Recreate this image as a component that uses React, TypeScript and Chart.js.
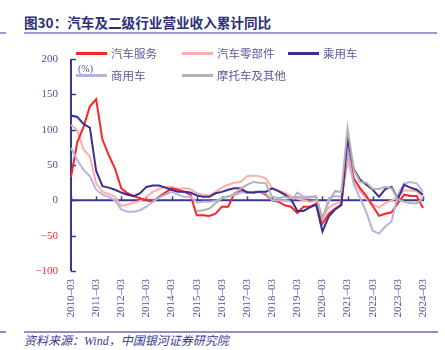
import React, { useEffect, useRef } from "react";
import { Chart, registerables } from "chart.js";

Chart.register(...registerables);

const categories = [
  "2010-03", "2010-06", "2010-09", "2010-12",
  "2011-03", "2011-06", "2011-09", "2011-12",
  "2012-03", "2012-06", "2012-09", "2012-12",
  "2013-03", "2013-06", "2013-09", "2013-12",
  "2014-03", "2014-06", "2014-09", "2014-12",
  "2015-03", "2015-06", "2015-09", "2015-12",
  "2016-03", "2016-06", "2016-09", "2016-12",
  "2017-03", "2017-06", "2017-09", "2017-12",
  "2018-03", "2018-06", "2018-09", "2018-12",
  "2019-03", "2019-06", "2019-09", "2019-12",
  "2020-03", "2020-06", "2020-09", "2020-12",
  "2021-03", "2021-06", "2021-09", "2021-12",
  "2022-03", "2022-06", "2022-09", "2022-12",
  "2023-03", "2023-06", "2023-09", "2023-12",
  "2024-03",
];

const autoService = [
  33, 82, 104, 133, 143, 86, 64, 45, 17, 10, 6, 3, 0, -2, 5, 11, 17, 15, 12, 8,
  -21, -21, -22, -19, -9, -9, 10, 13, 12, 11, 12, 8, 0, -2, -7, -9, -18, -9, -9, -5,
  -33, -19, -12, -6, 73, 31, 17, 6, -8, -22, -19, -17, -4, 8, 6, 6, -11,
];

const autoParts = [
  107, 99, 72, 62, 24, 12, 9, 5, -8, -6, -3, -1, 5, 12, 16, 19, 19, 16, 17, 16,
  10, 8, 7, 12, 18, 22, 25, 26, 34, 35, 34, 31, 17, 14, 11, 6, 2, 0, -2, -1,
  -25, -10, -5, -1, 55, 27, 13, 2, -6, -10, -4, 0, 4, 14, 14, 13, 4,
];

const passengerCar = [
  120, 118, 108, 103, 42, 20, 18, 15, 11, 8, 6, 10, 19, 21, 21, 18, 15, 12, 12, 11,
  7, 5, 5, 10, 12, 15, 17, 17, 11, 11, 12, 12, 17, 13, 8, 2, -15, -15, -10, -6,
  -44, -23, -13, -7, 88, 44, 29, 22, 15, 5, 16, 19, 2, 22, 18, 15, 8,
];

const commercialVehicle = [
  74, 57, 43, 34, 15, 8, 5, 0, -13, -16, -16, -14, -9, -2, 4, 8, 12, 8, 5, 5,
  -3, -2, -2, -1, 3, 6, 7, 11, 11, 12, 12, 10, 0, 0, 0, -2, 11, 5, 5, 6,
  -27, 3, 6, 5, 70, 22, 3, -17, -43, -47, -37, -30, 8, 24, 26, 24, 12,
];

const motorcycleOther = [
  null, null, null, null, null, null, null, null, null, null,
  null, null, null, null, null, null, null, null, null, null,
  -15, -14, -12, -4, 3, 5, 9, 17, 22, 26, 25, 24, 5, 3, 5, 3, 5, 3, 4, 5,
  -25, -2, 13, 12, 102, 43, 26, 25, 16, 16, 19, 17, 1, -2, -4, -4, 3,
];

const seriesNames = ["汽车服务", "汽车零部件", "乘用车", "商用车", "摩托车及其他"];
const seriesColors = ["#ff2424", "#ffadad", "#3a2f8e", "#b4b4e0", "#b2b2b2"];
const seriesData = [autoService, autoParts, passengerCar, commercialVehicle, motorcycleOther];
const seriesOrder = [4, 5, 2, 3, 1];

const yTicks = [-100, -50, 0, 50, 100, 150, 200];

const NAVY = "#3b3590";
const TICK_BLUE = "#4f4f9f";
const TICK_RED = "#ff2a2a";

const axisPlugin = {
  id: "customAxes",
  beforeDatasetsDraw(chart: any) {
    const { ctx, chartArea, scales } = chart;
    const x = scales.x;
    const y = scales.y;
    const y0 = y.getPixelForValue(0);
    ctx.save();
    ctx.strokeStyle = NAVY;
    ctx.lineWidth = 2;
    ctx.beginPath();
    ctx.moveTo(chartArea.left, y0);
    ctx.lineTo(chartArea.right + 1, y0);
    ctx.stroke();
    ctx.lineWidth = 1.5;
    for (let i = 0; i < categories.length; i += 4) {
      const px = Math.round(x.getPixelForValue(i)) + 0.5;
      ctx.beginPath();
      ctx.moveTo(px, y0);
      ctx.lineTo(px, y0 - 4);
      ctx.stroke();
    }
    for (const v of yTicks) {
      const py = Math.round(y.getPixelForValue(v)) + 0.5;
      ctx.beginPath();
      ctx.moveTo(chartArea.left, py);
      ctx.lineTo(chartArea.left + 5, py);
      ctx.stroke();
    }
    ctx.lineWidth = 2;
    ctx.beginPath();
    ctx.moveTo(chartArea.left, y.getPixelForValue(200));
    ctx.lineTo(chartArea.left, y.getPixelForValue(-100));
    ctx.stroke();
    ctx.restore();
  },
};

export default function App() {
  const canvasRef = useRef<HTMLCanvasElement | null>(null);

  useEffect(() => {
    if (!canvasRef.current) return;
    const chart = new Chart(canvasRef.current, {
      type: "line",
      data: {
        labels: categories,
        datasets: seriesNames.map((name, i) => ({
          label: name,
          data: seriesData[i] as any,
          borderColor: seriesColors[i],
          backgroundColor: seriesColors[i],
          borderWidth: 2,
          pointRadius: 0,
          tension: 0,
          fill: false,
          spanGaps: false,
          order: seriesOrder[i],
        })),
      },
      options: {
        animation: false,
        responsive: false,
        devicePixelRatio: 1,
        layout: { padding: { left: 0, right: 22, top: 59, bottom: 0 } },
        plugins: {
          legend: { display: false },
          title: { display: false },
          tooltip: { enabled: false },
        },
        scales: {
          x: {
            type: "category",
            offset: false,
            grid: { display: false, drawTicks: false },
            border: { display: false },
            afterFit: (scale: any) => {
              scale.height = 59;
            },
            ticks: {
              autoSkip: false,
              minRotation: 90,
              maxRotation: 90,
              padding: 8,
              color: TICK_BLUE,
              font: { family: "'Liberation Serif', serif", size: 11 },
              callback: (_v: any, index: number) =>
                index % 4 === 0 ? categories[index].replace("-", "\u2013") : "",
            },
          },
          y: {
            min: -100,
            max: 200,
            grid: { display: false, drawTicks: false },
            border: { display: false },
            afterFit: (scale: any) => {
              scale.width = 71;
            },
            afterBuildTicks: (scale: any) => {
              scale.ticks = yTicks.map((v) => ({ value: v }));
            },
            ticks: {
              padding: 13,
              color: (c: any) => (c.tick && c.tick.value < 0 ? TICK_RED : TICK_BLUE),
              font: { family: "'Liberation Serif', serif", size: 11 },
              callback: (v: any) => (v < 0 ? "\u2212" + Math.abs(v) : String(v)),
            },
          },
        },
      },
      plugins: [axisPlugin],
    });
    return () => chart.destroy();
  }, []);

  const legendPos = [
    { x: 76, y: 53 },
    { x: 182, y: 53 },
    { x: 288, y: 53 },
    { x: 76, y: 75 },
    { x: 182, y: 75 },
  ];

  return (
    <div
      style={{
        position: "fixed",
        left: 0,
        top: 0,
        width: 445,
        height: 350,
        background: "#ffffff",
        overflow: "hidden",
      }}
    >
      <div
        style={{
          position: "absolute",
          left: 24,
          top: 12,
          fontFamily: "'Noto Sans CJK SC', sans-serif",
          fontWeight: 700,
          fontSize: 13.6,
          lineHeight: "20px",
          color: "#2b2f7a",
          whiteSpace: "nowrap",
        }}
      >
        图30：汽车及二级行业营业收入累计同比
      </div>
      <div style={{ position: "absolute", left: 0, top: 32, width: 6, height: 1.5, background: "#9b9bd0" }} />
      <div style={{ position: "absolute", left: 24, top: 32, width: 413, height: 1.5, background: "#9b9bd0" }} />
      <canvas
        ref={canvasRef}
        width={445}
        height={330}
        style={{ position: "absolute", left: 0, top: 0, width: 445, height: 330 }}
      />
      {seriesNames.map((name, i) => (
        <div key={name}>
          <div
            style={{
              position: "absolute",
              left: legendPos[i].x,
              top: legendPos[i].y - 1.5,
              width: 31,
              height: 3,
              background: seriesColors[i],
            }}
          />
          <div
            style={{
              position: "absolute",
              left: legendPos[i].x + 35,
              top: legendPos[i].y - 9,
              fontFamily: "'Noto Sans CJK SC', sans-serif",
              fontSize: 11.5,
              lineHeight: "18px",
              color: "#5a5a9c",
              whiteSpace: "nowrap",
            }}
          >
            {name}
          </div>
        </div>
      ))}
      <div
        style={{
          position: "absolute",
          left: 78,
          top: 62,
          fontFamily: "'Liberation Serif', serif",
          fontSize: 10,
          lineHeight: "14px",
          color: "#4f4f9f",
        }}
      >
        (%)
      </div>
      <div style={{ position: "absolute", left: 0, top: 331, width: 6, height: 1.5, background: "#8f8fcc" }} />
      <div style={{ position: "absolute", left: 24, top: 331, width: 414, height: 1.5, background: "#8f8fcc" }} />
      <div
        style={{
          position: "absolute",
          left: 24,
          top: 333,
          fontFamily: "'Liberation Serif', 'Noto Sans CJK SC', serif",
          fontStyle: "italic",
          fontSize: 12,
          lineHeight: "16px",
          color: "#3a3a8c",
          whiteSpace: "nowrap",
        }}
      >
        资料来源：Wind，中国银河证券研究院
      </div>
    </div>
  );
}
